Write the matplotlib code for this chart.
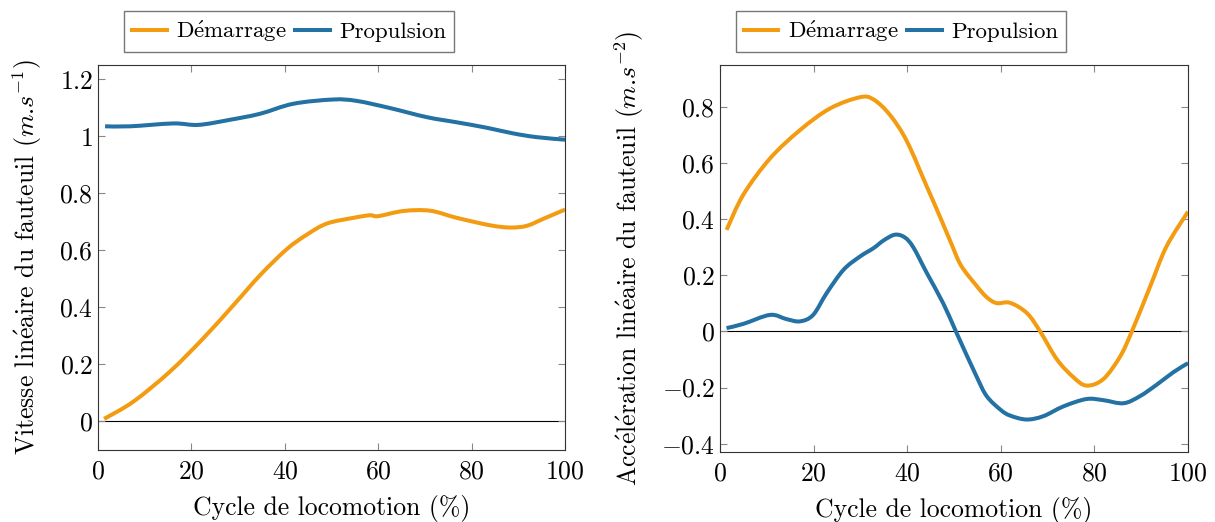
import matplotlib
matplotlib.use("Agg")
import numpy as np
import matplotlib.pyplot as plt
from matplotlib.path import Path
from matplotlib.patches import PathPatch
from matplotlib.lines import Line2D
from matplotlib.ticker import FuncFormatter

plt.rcParams['font.family'] = ['cmr10', 'DejaVu Serif']
plt.rcParams['mathtext.fontset'] = 'cm'
plt.rcParams['axes.formatter.use_mathtext'] = True

FS = 18.5
FS_LEG = 16.5

# vitesse (m/s)
x_v_dem = [1.3, 7.6, 15.4, 22.5, 29, 34.7, 40.4, 44.7, 49, 54.7, 58.2, 60, 65.4, 71.1, 76.8, 83.9, 88.2, 91.8, 95.4, 100]
v_dem = [0.009, 0.07, 0.175, 0.291, 0.408, 0.513, 0.604, 0.655, 0.694, 0.714, 0.723, 0.72, 0.738, 0.739, 0.714, 0.688, 0.68, 0.686, 0.711, 0.743]
x_v_pro = [1.5, 6.9, 16.1, 21.5, 28.3, 34.7, 41.8, 50.4, 55.4, 62.5, 70.4, 76.8, 83.2, 88.9, 93.9, 100]
v_pro = [1.035, 1.035, 1.045, 1.04, 1.058, 1.079, 1.114, 1.129, 1.124, 1.099, 1.067, 1.049, 1.03, 1.01, 0.997, 0.988]

# acceleration (m/s^2)
x_a_dem = [1.4, 5, 10.7, 17.1, 23.5, 29.9, 32.8, 36.3, 39.9, 44.2, 47, 49.5, 51.5, 54.8, 57, 59.1, 62, 65.6, 68.4,
           72, 75.5, 78.3, 81.9, 85.5, 88, 91.9, 95.4, 100]
a_dem = [0.362, 0.488, 0.617, 0.718, 0.795, 0.835, 0.827, 0.772, 0.679, 0.516, 0.409, 0.31, 0.235, 0.163, 0.122, 0.101,
         0.102, 0.065, 0.0, -0.1, -0.163, -0.193, -0.17, -0.089, 0.0, 0.16, 0.303, 0.427]
x_a_pro = [1.4, 5, 10.7, 14.2, 17.1, 19.9, 22.8, 26.4, 29.9, 32.8, 35, 37.4, 39.5, 41.3, 44.2, 47.7, 50.4, 54.8,
           57, 60, 62, 65.5, 69.1, 73.4, 78.3, 81.9, 86.2, 89.7, 93.3, 96.9, 100]
a_pro = [0.012, 0.027, 0.059, 0.044, 0.036, 0.059, 0.137, 0.22, 0.267, 0.297, 0.325, 0.345, 0.335, 0.3, 0.208, 0.1,
         0.0, -0.16, -0.231, -0.28, -0.3, -0.314, -0.302, -0.267, -0.241, -0.245, -0.256, -0.231, -0.19, -0.145, -0.113]

orange = '#F39C12'
blue = '#2471A3'
LW = 2.9


def smooth_line(ax, xs, ys, color):
    # pgfplots-like "smooth": cubic bezier through the points
    p = np.column_stack([xs, ys]).astype(float)
    n = len(p)
    verts = [p[0]]
    codes = [Path.MOVETO]
    k = 1 / 6
    for i in range(n - 1):
        a = p[i - 1] if i > 0 else p[i]
        d = p[i + 2] if i + 2 < n else p[i + 1]
        c1 = p[i] + (p[i + 1] - a) * k
        c2 = p[i + 1] - (d - p[i]) * k
        verts += [c1, c2, p[i + 1]]
        codes += [Path.CURVE4] * 3
    ax.add_patch(PathPatch(Path(verts, codes), facecolor='none', edgecolor=color, lw=LW,
                           capstyle='butt', joinstyle='round', zorder=3))


fig = plt.figure(figsize=(12.15, 5.22), dpi=100)
ax1 = fig.add_axes([0.0807, 0.138, 0.3844, 0.7375])
ax2 = fig.add_axes([0.5926, 0.134, 0.3852, 0.7415])

fmt = FuncFormatter(lambda v, p: "$%g$" % round(v, 2))
handles = [Line2D([], [], color=orange, lw=LW), Line2D([], [], color=blue, lw=LW)]
labels = [r'D$\mathrm{\acute{e}}$marrage', 'Propulsion']


def style(ax, legx):
    ax.axhline(0, color='black', lw=0.8, zorder=1)
    ax.tick_params(direction='in', top=True, right=True, color='#888888', length=5, width=0.8, labelsize=FS)
    ax.tick_params(axis='x', pad=7)
    for s in ax.spines.values():
        s.set_color('#333333')
        s.set_linewidth(0.8)
    ax.set_xlim(0, 100)
    ax.set_xticks([0, 20, 40, 60, 80, 100])
    ax.xaxis.set_major_formatter(fmt)
    ax.yaxis.set_major_formatter(fmt)
    ax.set_xlabel('Cycle de locomotion (%)', fontsize=FS, labelpad=8)
    ax.legend(handles, labels, loc='center', bbox_to_anchor=(legx, 0.94), bbox_transform=fig.transFigure,
              ncol=2, fancybox=False, edgecolor='#555555', fontsize=FS_LEG, handlelength=1.5, columnspacing=0.4,
              handletextpad=0.4, borderpad=0.35, borderaxespad=0)


smooth_line(ax1, x_v_dem, v_dem, orange)
smooth_line(ax1, x_v_pro, v_pro, blue)
style(ax1, 0.238)
ax1.set_ylim(-0.1, 1.25)
ax1.set_yticks([0, 0.2, 0.4, 0.6, 0.8, 1, 1.2])
ax1.set_ylabel(r'Vitesse lin$\mathrm{\acute{e}}$aire du fauteuil ($m$.$s^{-1}$)', fontsize=FS, labelpad=11)

smooth_line(ax2, x_a_dem, a_dem, orange)
smooth_line(ax2, x_a_pro, a_pro, blue)
style(ax2, 0.7416)
ax2.set_ylim(-0.43, 0.95)
ax2.set_yticks([-0.4, -0.2, 0, 0.2, 0.4, 0.6, 0.8])
ax2.set_ylabel(r'Acc$\mathrm{\acute{e}}$l$\mathrm{\acute{e}}$ration lin$\mathrm{\acute{e}}$aire du fauteuil ($m$.$s^{-2}$)',
               fontsize=FS, labelpad=11)

fig.savefig('out.png', dpi=100)
